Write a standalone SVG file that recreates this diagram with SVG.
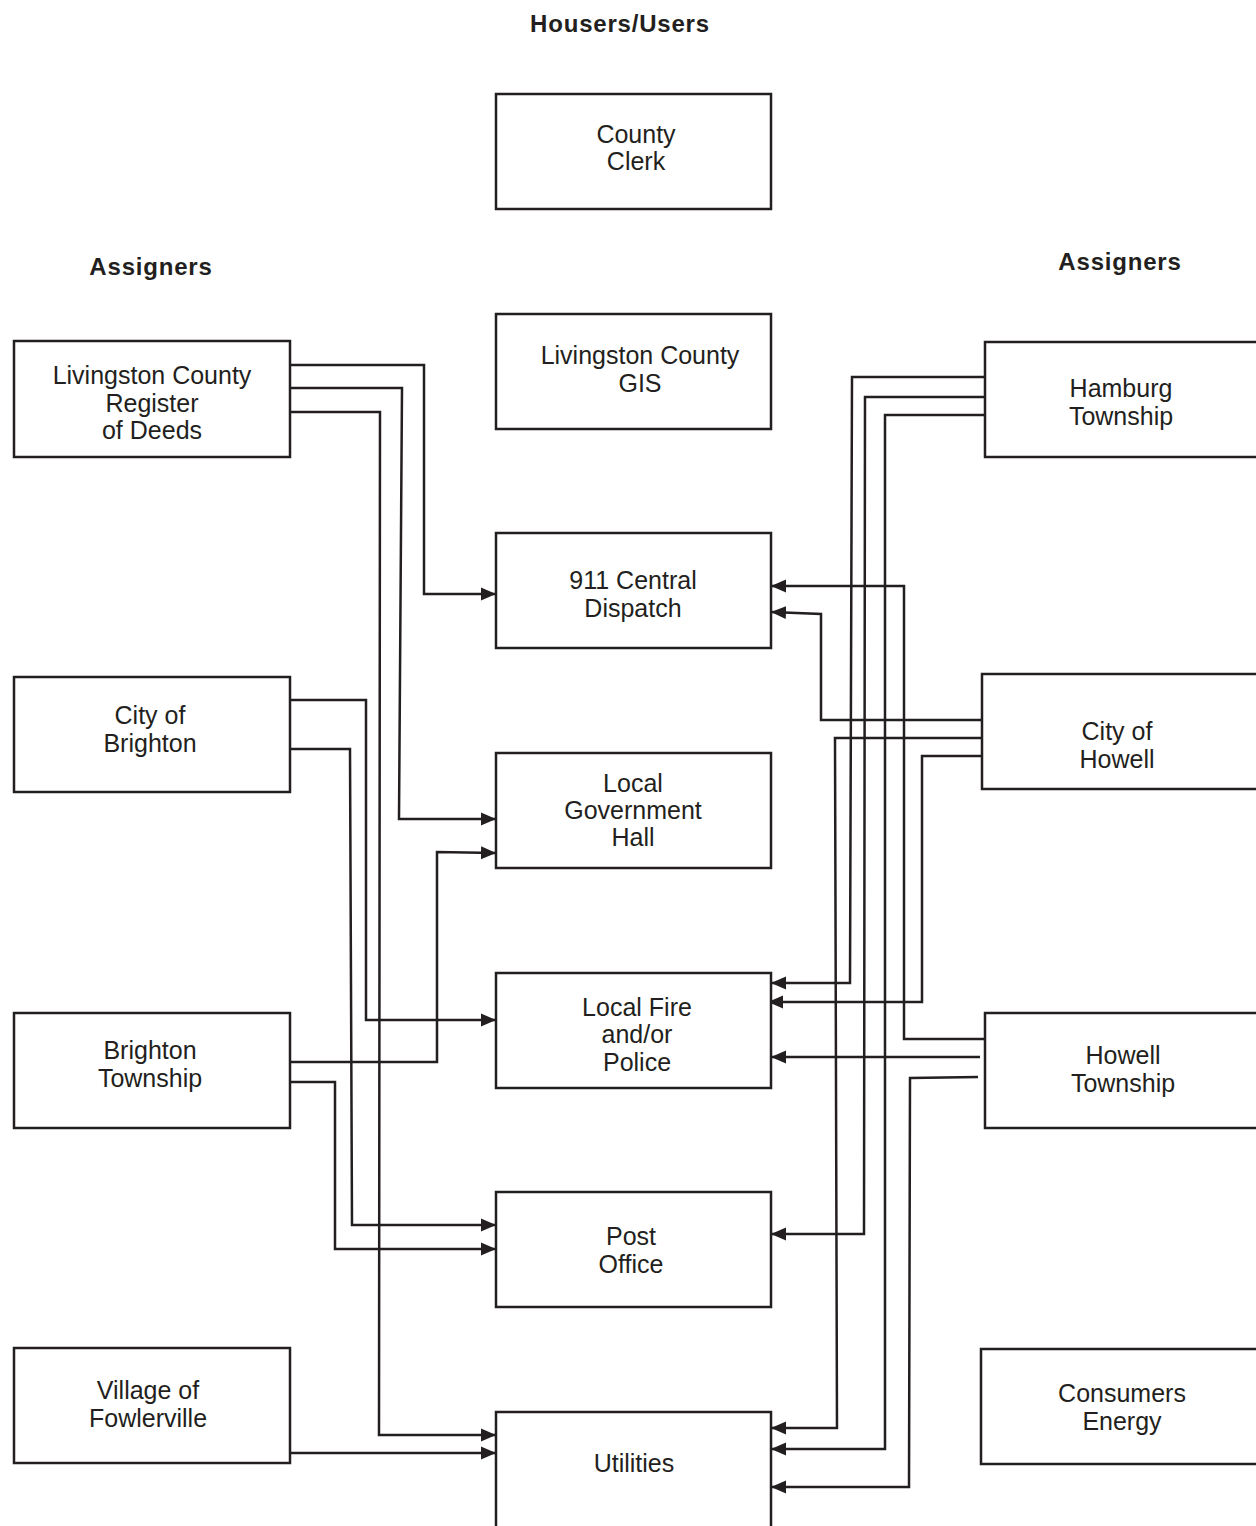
<svg xmlns="http://www.w3.org/2000/svg" width="1256" height="1526" viewBox="0 0 1256 1526">
<style>
.box{fill:#fff;stroke:#231f20;stroke-width:2.5}
.t{font-family:"Liberation Sans",Arial,sans-serif;font-size:25px;fill:#231f20;text-anchor:middle}
.h{font-family:"Liberation Sans",Arial,sans-serif;font-size:24px;font-weight:bold;letter-spacing:0.8px;fill:#231f20;text-anchor:middle}
.c{fill:none;stroke:#231f20;stroke-width:2.5}
</style>
<defs>
<marker id="arr" markerUnits="userSpaceOnUse" markerWidth="16" markerHeight="14" refX="15" refY="7" orient="auto">
<path d="M0,0.5 L15,7 L0,13.5 z" fill="#231f20"/>
</marker>
</defs>
<rect width="1256" height="1526" fill="#fff"/>
<text class="h" x="620" y="32">Housers/Users</text>
<text class="h" x="151" y="275">Assigners</text>
<text class="h" x="1120" y="270">Assigners</text>

<g id="connectors">
<polyline class="c" marker-end="url(#arr)" points="290,365 424,365 424,594 496,594"/>
<polyline class="c" marker-end="url(#arr)" points="290,388 402,388 399,819 496,819"/>
<polyline class="c" marker-end="url(#arr)" points="290,412 380,412 379,1435 496,1435"/>
<polyline class="c" marker-end="url(#arr)" points="290,700 366,700 366,1020 496,1020"/>
<polyline class="c" marker-end="url(#arr)" points="290,749 350,749 352,1225 496,1225"/>
<polyline class="c" marker-end="url(#arr)" points="290,1062 437,1062 437,852 496,853"/>
<polyline class="c" marker-end="url(#arr)" points="290,1082 335,1082 335,1249 496,1249"/>
<polyline class="c" marker-end="url(#arr)" points="290,1453 496,1453"/>
<polyline class="c" marker-end="url(#arr)" points="985,377 852,377 850,983 771,983"/>
<polyline class="c" marker-end="url(#arr)" points="985,397 865,397 864,1234 771,1234"/>
<polyline class="c" marker-end="url(#arr)" points="985,415 885,415 885,1449 771,1449"/>
<polyline class="c" marker-end="url(#arr)" points="985,1039 904,1039 904,586 771,586"/>
<polyline class="c" marker-end="url(#arr)" points="982,720 821,720 821,614 771,612"/>
<polyline class="c" marker-end="url(#arr)" points="982,738 835,738 837,1428 771,1428"/>
<polyline class="c" marker-end="url(#arr)" points="982,756 922,756 922,1002 768,1002"/>
<polyline class="c" marker-end="url(#arr)" points="980,1057 771,1057"/>
<polyline class="c" marker-end="url(#arr)" points="978,1077 910,1078 909,1487 771,1487"/>
</g>

<g id="county-clerk"><rect class="box" x="496" y="94" width="275" height="115"/><text class="t" x="636" y="143">County</text><text class="t" x="636" y="170">Clerk</text></g>
<g id="gis"><rect class="box" x="496" y="314" width="275" height="115"/><text class="t" x="640" y="364">Livingston County</text><text class="t" x="640" y="392">GIS</text></g>
<g id="dispatch"><rect class="box" x="496" y="533" width="275" height="115"/><text class="t" x="633" y="589">911 Central</text><text class="t" x="633" y="617">Dispatch</text></g>
<g id="gov-hall"><rect class="box" x="496" y="753" width="275" height="115"/><text class="t" x="633" y="792">Local</text><text class="t" x="633" y="819">Government</text><text class="t" x="633" y="846">Hall</text></g>
<g id="fire-police"><rect class="box" x="496" y="973" width="275" height="115"/><text class="t" x="637" y="1016">Local Fire</text><text class="t" x="637" y="1043">and/or</text><text class="t" x="637" y="1071">Police</text></g>
<g id="post-office"><rect class="box" x="496" y="1192" width="275" height="115"/><text class="t" x="631" y="1245">Post</text><text class="t" x="631" y="1273">Office</text></g>
<g id="utilities"><rect class="box" x="496" y="1412" width="275" height="130"/><text class="t" x="634" y="1472">Utilities</text></g>

<g id="register-deeds"><rect class="box" x="14" y="341" width="276" height="116"/><text class="t" x="152" y="384">Livingston County</text><text class="t" x="152" y="412">Register</text><text class="t" x="152" y="439">of Deeds</text></g>
<g id="city-brighton"><rect class="box" x="14" y="677" width="276" height="115"/><text class="t" x="150" y="724">City of</text><text class="t" x="150" y="752">Brighton</text></g>
<g id="brighton-twp"><rect class="box" x="14" y="1013" width="276" height="115"/><text class="t" x="150" y="1059">Brighton</text><text class="t" x="150" y="1087">Township</text></g>
<g id="fowlerville"><rect class="box" x="14" y="1348" width="276" height="115"/><text class="t" x="148" y="1399">Village of</text><text class="t" x="148" y="1427">Fowlerville</text></g>

<g id="hamburg"><rect class="box" x="985" y="342" width="290" height="115"/><text class="t" x="1121" y="397">Hamburg</text><text class="t" x="1121" y="425">Township</text></g>
<g id="city-howell"><rect class="box" x="982" y="674" width="290" height="115"/><text class="t" x="1117" y="740">City of</text><text class="t" x="1117" y="768">Howell</text></g>
<g id="howell-twp"><rect class="box" x="985" y="1013" width="290" height="115"/><text class="t" x="1123" y="1064">Howell</text><text class="t" x="1123" y="1092">Township</text></g>
<g id="consumers"><rect class="box" x="981" y="1349" width="290" height="115"/><text class="t" x="1122" y="1402">Consumers</text><text class="t" x="1122" y="1430">Energy</text></g>
</svg>
